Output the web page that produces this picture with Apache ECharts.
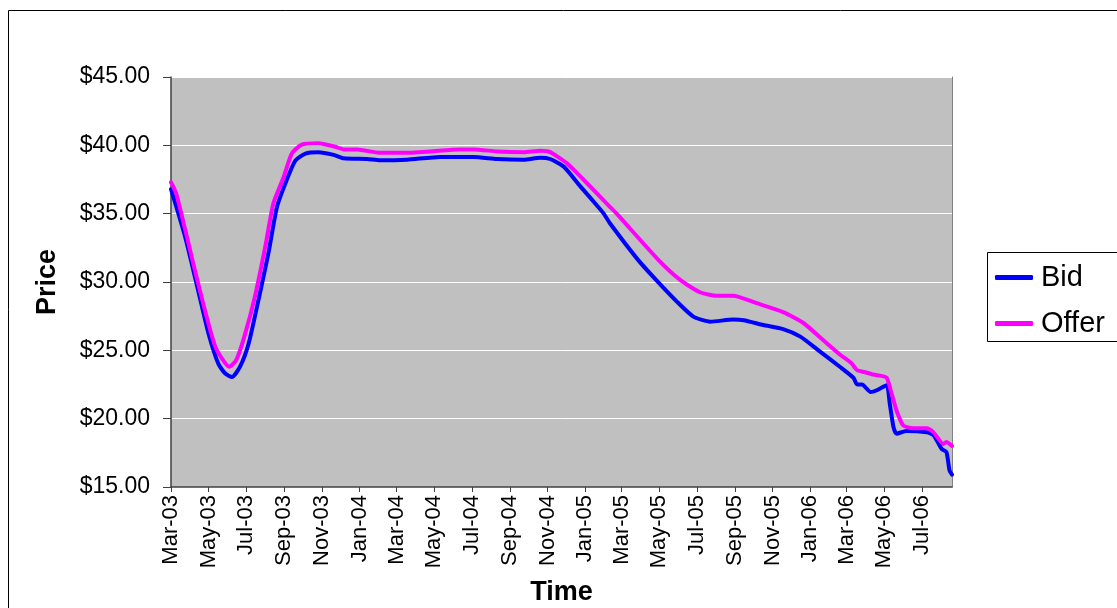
<!DOCTYPE html>
<html>
<head>
<meta charset="utf-8">
<script src="https://cdn.jsdelivr.net/npm/echarts@6/dist/echarts.min.js"></script>
<style>
html,body{margin:0;padding:0;background:#fff;}
#chart{width:1117px;height:608px;}
</style>
</head>
<body>
<div id="chart"></div>
<script>
const startDate = '2003-03-01';
const endDate = '2006-08-19';
const monthNames = ['Jan','Feb','Mar','Apr','May','Jun','Jul','Aug','Sep','Oct','Nov','Dec'];
const yTicks = [15, 20, 25, 30, 35, 40, 45];

const bidDates = ['2003-03-01','2003-03-24','2003-04-15','2003-05-01','2003-05-17','2003-05-28','2003-06-08','2003-06-21','2003-07-05','2003-07-21','2003-08-06','2003-08-20','2003-09-05','2003-09-19','2003-10-05','2003-10-26','2003-11-20','2003-12-06','2004-01-13','2004-02-03','2004-03-18','2004-05-11','2004-07-04','2004-08-11','2004-09-23','2004-10-20','2004-11-05','2004-11-27','2004-12-24','2005-01-20','2005-01-31','2005-02-10','2005-03-28','2005-04-27','2005-05-30','2005-06-26','2005-07-23','2005-08-29','2005-09-15','2005-10-17','2005-11-18','2005-12-16','2006-01-17','2006-02-18','2006-03-12','2006-03-18','2006-03-26','2006-04-09','2006-04-20','2006-05-05','2006-05-10','2006-05-16','2006-05-21','2006-06-06','2006-07-09','2006-07-20','2006-08-02','2006-08-10','2006-08-15','2006-08-19'];
const bidPrices = [36.8,33.3,29.2,26.2,24.0,23.3,23.05,23.8,25.5,28.7,32.1,35.5,37.5,38.9,39.4,39.5,39.3,39.05,39.0,38.9,38.95,39.15,39.15,39.0,38.95,39.1,39.0,38.45,37.0,35.6,35.0,34.3,31.6,30.1,28.55,27.45,27.1,27.25,27.2,26.85,26.55,26.0,24.9,23.8,23.0,22.5,22.5,21.95,22.1,22.45,21.1,19.4,18.9,19.1,19.0,18.8,17.8,17.55,16.2,15.9];

const offerDates = ['2003-03-01','2003-03-10','2003-04-14','2003-05-12','2003-06-04','2003-06-15','2003-06-28','2003-07-15','2003-08-01','2003-08-14','2003-08-31','2003-09-13','2003-09-29','2003-10-26','2003-11-22','2003-12-06','2003-12-28','2004-02-03','2004-03-12','2004-04-24','2004-06-12','2004-07-04','2004-08-11','2004-09-23','2004-10-20','2004-11-05','2004-12-02','2004-12-29','2005-02-10','2005-02-21','2005-04-30','2005-06-04','2005-07-06','2005-08-02','2005-08-29','2005-10-06','2005-11-18','2005-12-21','2006-01-22','2006-02-18','2006-03-09','2006-03-18','2006-03-31','2006-04-11','2006-04-24','2006-05-05','2006-05-13','2006-05-21','2006-06-01','2006-06-17','2006-07-09','2006-07-20','2006-08-05','2006-08-10','2006-08-19'];
const offerPrices = [37.3,36.4,29.9,25.25,23.8,24.3,26.0,28.9,32.6,35.75,37.7,39.4,40.05,40.15,39.9,39.7,39.7,39.45,39.45,39.55,39.7,39.7,39.55,39.5,39.6,39.5,38.7,37.5,35.5,35.0,31.6,30.15,29.25,29.0,29.0,28.45,27.8,27.0,25.75,24.7,24.05,23.55,23.4,23.25,23.15,23.0,21.85,20.6,19.5,19.3,19.3,19.0,18.15,18.3,18.0];

// daily categories
const categories = [];
const catIndex = {};
(function () {
  const DAY = 86400000;
  let t = Date.parse(startDate + 'T00:00:00Z');
  const end = Date.parse(endDate + 'T00:00:00Z');
  while (t <= end) {
    const s = new Date(t).toISOString().slice(0, 10);
    catIndex[s] = categories.length;
    categories.push(s);
    t += DAY;
  }
})();

function isTickDay(idx, val) {
  const m = parseInt(val.slice(5, 7), 10) - 1;
  return val.slice(8) === '01' && m % 2 === 0;
}
function fmtLabel(val) {
  const m = parseInt(val.slice(5, 7), 10) - 1;
  return monthNames[m] + '-' + val.slice(2, 4);
}

const FONT = '"Liberation Sans", Arial, sans-serif';
const axisColor = '#404040';

const chart = echarts.init(document.getElementById('chart'), null, {renderer: 'canvas'});
chart.setOption({
  animation: false,
  backgroundColor: '#ffffff',
  textStyle: {fontFamily: FONT, color: '#000'},
  graphic: [
    {type: 'rect', silent: true, z: -10,
     shape: {x: 8.5, y: 10.5, width: 1300, height: 800},
     style: {fill: '#ffffff', stroke: '#000000', lineWidth: 1}},
    {type: 'rect', silent: true, z: 5,
     shape: {x: 987.5, y: 252.5, width: 300, height: 89},
     style: {fill: '#ffffff', stroke: '#000000', lineWidth: 1}}
  ],
  grid: {left: 171, top: 77, width: 781, height: 410, show: true,
         backgroundColor: '#c0c0c0', borderWidth: 0, containLabel: false,
         outerBoundsMode: 'none'},
  legend: {
    orient: 'vertical', left: 995, top: 263, z: 10, padding: 0,
    icon: 'roundRect',
    itemWidth: 38, itemHeight: 5, itemGap: 17,
    textStyle: {fontFamily: FONT, fontSize: 29, color: '#000', padding: [0, 0, 0, 3]},
    data: ['Bid', 'Offer']
  },
  xAxis: {
    type: 'category',
    data: categories,
    boundaryGap: false,
    name: 'Time',
    nameLocation: 'middle',
    nameGap: 92,
    nameTextStyle: {fontFamily: FONT, fontSize: 27, fontWeight: 'bold', color: '#000'},
    axisLine: {show: true, lineStyle: {color: axisColor, width: 1.5}},
    axisTick: {show: true, interval: isTickDay, length: 5, lineStyle: {color: axisColor}},
    axisLabel: {show: true, interval: isTickDay, rotate: 90, margin: 8,
                formatter: fmtLabel, fontFamily: FONT, fontSize: 22, color: '#000'},
    splitLine: {show: false}
  },
  yAxis: [{
    type: 'value',
    min: yTicks[0], max: yTicks[yTicks.length - 1], interval: 5,
    name: 'Price',
    nameLocation: 'middle',
    nameRotate: 90,
    nameGap: 110,
    nameTextStyle: {fontFamily: FONT, fontSize: 27, fontWeight: 'bold', color: '#000'},
    axisLine: {show: true, lineStyle: {color: axisColor, width: 1.5}},
    axisTick: {show: true, length: 8, lineStyle: {color: axisColor}},
    axisLabel: {margin: 21, fontFamily: FONT, fontSize: 23, color: '#000',
                formatter: v => '$' + v.toFixed(2)},
    splitLine: {show: true, lineStyle: {color: '#ffffff', width: 1}}
  }, {
    type: 'value', position: 'right',
    min: yTicks[0], max: yTicks[yTicks.length - 1], interval: 5,
    axisLine: {show: true, lineStyle: {color: '#808080', width: 1}},
    axisTick: {show: false}, axisLabel: {show: false}, splitLine: {show: false}
  }],
  series: [
    {name: 'Bid', type: 'line', symbol: 'none', smooth: 0.2,
     lineStyle: {color: '#0000ff', width: 4, cap: 'round', join: 'round'}, itemStyle: {color: '#0000ff'},
     data: bidDates.map((d, i) => [catIndex[d], bidPrices[i]])},
    {name: 'Offer', type: 'line', symbol: 'none', smooth: 0.2,
     lineStyle: {color: '#ff00ff', width: 4, cap: 'round', join: 'round'}, itemStyle: {color: '#ff00ff'},
     data: offerDates.map((d, i) => [catIndex[d], offerPrices[i]])}
  ]
});
</script>
</body>
</html>
